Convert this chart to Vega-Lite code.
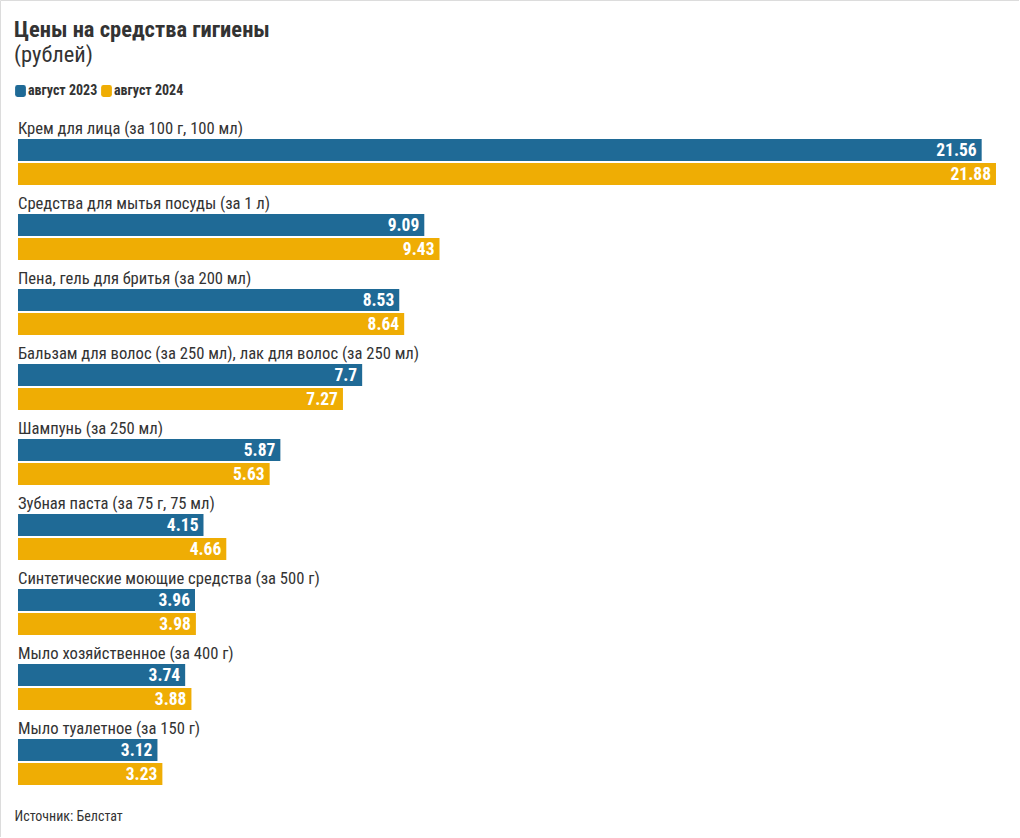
{
  "$schema": "https://vega.github.io/schema/vega-lite/v6.json",
  "width": 1019,
  "height": 837,
  "padding": 0,
  "autosize": {"type": "none"},
  "background": "#ffffff",
  "config": {
    "font": "Roboto Condensed, Roboto, sans-serif",
    "view": {"stroke": "#dcdcdc", "strokeWidth": 1}
  },
  "title": {
    "text": "Цены на средства гигиены",
    "subtitle": "(рублей)",
    "anchor": "start",
    "orient": "top",
    "offset": -66,
    "dx": 14,
    "font": "Roboto Condensed, Roboto, sans-serif",
    "fontSize": 22.5,
    "fontWeight": "bold",
    "color": "#333333",
    "subtitleFont": "Roboto Condensed, Roboto, sans-serif",
    "subtitleFontSize": 22.5,
    "subtitleColor": "#333333",
    "subtitlePadding": 2
  },
  "data": {
    "values": [
      {"category": "Крем для лица (за 100 г, 100 мл)", "period": "август 2023", "price": 21.56},
      {"category": "Крем для лица (за 100 г, 100 мл)", "period": "август 2024", "price": 21.88},
      {"category": "Средства для мытья посуды (за 1 л)", "period": "август 2023", "price": 9.09},
      {"category": "Средства для мытья посуды (за 1 л)", "period": "август 2024", "price": 9.43},
      {"category": "Пена, гель для бритья (за 200 мл)", "period": "август 2023", "price": 8.53},
      {"category": "Пена, гель для бритья (за 200 мл)", "period": "август 2024", "price": 8.64},
      {"category": "Бальзам для волос (за 250 мл), лак для волос (за 250 мл)", "period": "август 2023", "price": 7.7},
      {"category": "Бальзам для волос (за 250 мл), лак для волос (за 250 мл)", "period": "август 2024", "price": 7.27},
      {"category": "Шампунь (за 250 мл)", "period": "август 2023", "price": 5.87},
      {"category": "Шампунь (за 250 мл)", "period": "август 2024", "price": 5.63},
      {"category": "Зубная паста (за 75 г, 75 мл)", "period": "август 2023", "price": 4.15},
      {"category": "Зубная паста (за 75 г, 75 мл)", "period": "август 2024", "price": 4.66},
      {"category": "Синтетические моющие средства (за 500 г)", "period": "август 2023", "price": 3.96},
      {"category": "Синтетические моющие средства (за 500 г)", "period": "август 2024", "price": 3.98},
      {"category": "Мыло хозяйственное (за 400 г)", "period": "август 2023", "price": 3.74},
      {"category": "Мыло хозяйственное (за 400 г)", "period": "август 2024", "price": 3.88},
      {"category": "Мыло туалетное (за 150 г)", "period": "август 2023", "price": 3.12},
      {"category": "Мыло туалетное (за 150 г)", "period": "август 2024", "price": 3.23}
    ]
  },
  "encoding": {
    "y": {
      "field": "category",
      "type": "nominal",
      "sort": null,
      "scale": {"range": [120, 795], "paddingInner": 0, "paddingOuter": 0},
      "axis": null
    },
    "x": {
      "field": "price",
      "type": "quantitative",
      "scale": {"domain": [-0.4027, 22.395], "nice": false, "zero": false},
      "axis": {
        "labels": false,
        "ticks": false,
        "domain": false,
        "grid": false,
        "title": "Источник: Белстат",
        "titleAnchor": "start",
        "titleAlign": "left",
        "titleX": 14,
        "titleY": -17,
        "titleBaseline": "alphabetic",
        "titleFontSize": 14,
        "titleFontWeight": "normal",
        "titleColor": "#333333",
        "titleFont": "Roboto Condensed, Roboto, sans-serif"
      }
    }
  },
  "layer": [
    {
      "mark": {"type": "bar", "cornerRadius": 0},
      "encoding": {
        "x": {"datum": 0, "type": "quantitative"},
        "x2": {"field": "price"},
        "yOffset": {
          "field": "period",
          "type": "nominal",
          "scale": {"paddingInner": 0.083, "paddingOuter": 0.604, "align": 0.655}
        },
        "color": {
          "field": "period",
          "type": "nominal",
          "scale": {"domain": ["август 2023", "август 2024"], "range": ["#1f6a96", "#efad04"]},
          "legend": {
            "title": null,
            "orient": "none",
            "legendX": 13.5,
            "legendY": 84,
            "direction": "horizontal",
            "symbolType": "M-0.5,-1 H0.5 Q0.9,-1 0.9,-0.6 V0.6 Q0.9,1 0.5,1 H-0.5 Q-0.9,1 -0.9,0.6 V-0.6 Q-0.9,-1 -0.5,-1 Z",
            "symbolSize": 144,
            "symbolStrokeWidth": 0,
            "symbolOpacity": 1,
            "labelFont": "Roboto Condensed, Roboto, sans-serif",
            "labelFontSize": 14,
            "labelFontWeight": "bold",
            "labelColor": "#333333",
            "labelOffset": 0.5,
            "columnPadding": 2
          }
        }
      }
    },
    {
      "mark": {
        "type": "text",
        "align": "right",
        "baseline": "middle",
        "dx": -5,
        "dy": 1,
        "color": "#ffffff",
        "fontSize": 17.5,
        "fontWeight": "bold",
        "font": "Roboto Condensed, Roboto, sans-serif"
      },
      "encoding": {
        "yOffset": {
          "field": "period",
          "type": "nominal",
          "scale": {"paddingInner": 0.083, "paddingOuter": 0.604, "align": 0.655}
        },
        "text": {"field": "price", "type": "quantitative"}
      }
    },
    {
      "transform": [{"filter": "datum.period === 'август 2023'"}],
      "mark": {
        "type": "text",
        "align": "left",
        "baseline": "alphabetic",
        "dy": 14,
        "color": "#333333",
        "fontSize": 16.6,
        "font": "Roboto Condensed, Roboto, sans-serif"
      },
      "encoding": {
        "x": {"datum": 0, "type": "quantitative"},
        "y": {"field": "category", "type": "nominal", "sort": null, "bandPosition": 0},
        "text": {"field": "category", "type": "nominal"}
      }
    }
  ]
}
